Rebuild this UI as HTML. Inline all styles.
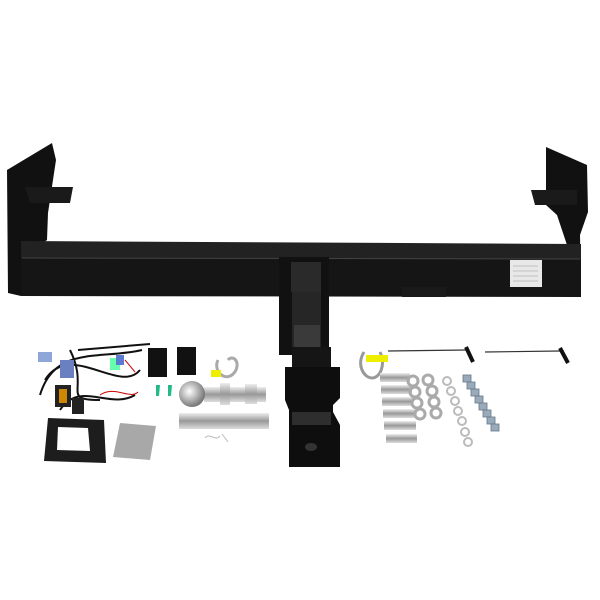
<!DOCTYPE html>
<html><head><meta charset="utf-8"><style>html,body{margin:0;padding:0;background:#fff}svg{display:block}</style></head>
<body>
<svg width="600" height="600" viewBox="0 0 600 600" xmlns="http://www.w3.org/2000/svg">
<defs>
<linearGradient id="chrome" x1="0" y1="0" x2="0" y2="1"><stop offset="0" stop-color="#eee"/><stop offset="0.5" stop-color="#999"/><stop offset="1" stop-color="#ddd"/></linearGradient>
<radialGradient id="ball" cx="0.4" cy="0.4" r="0.6"><stop offset="0" stop-color="#fff"/><stop offset="1" stop-color="#777"/></radialGradient>
</defs>
<!-- left plate -->
<path d="M7,170 L52,143 L56,160 L48,213 L47,240 L21,258 L21,296 L8,293 Z" fill="#111"/>
<polygon points="25,187 73,187 70,203 30,203" fill="#1a1a1a"/>
<!-- right plate -->
<path d="M546,147 L587,165 L588,212 L580,235 L581,296 L567,297 L567,245 L557,215 L546,205 Z" fill="#111"/>
<polygon points="531,190 577,190 577,205 535,205" fill="#1a1a1a"/>
<!-- bar -->
<polygon points="21,241 581,244 581,259 21,258" fill="#222"/>
<polygon points="21,258 581,259 581,297 21,296" fill="#151515"/>
<line x1="22" y1="258" x2="580" y2="259" stroke="#444" stroke-width="1"/>
<rect x="510" y="260" width="32" height="27" fill="#e8e8e8"/>
<g stroke="#999" stroke-width="0.6"><line x1="513" y1="266" x2="538" y2="266"/><line x1="513" y1="271" x2="538" y2="271"/><line x1="513" y1="276" x2="538" y2="276"/><line x1="513" y1="281" x2="538" y2="281"/></g>
<rect x="402" y="287" width="44" height="10" fill="#1a1a1a"/>
<!-- receiver -->
<rect x="279" y="257" width="50" height="98" fill="#111"/>
<rect x="291" y="262" width="30" height="30" fill="#2a2a2a"/>
<rect x="292" y="292" width="29" height="60" fill="#262626"/>
<rect x="294" y="325" width="26" height="22" fill="#3a3a3a"/>
<rect x="292" y="347" width="39" height="23" fill="#151515"/>
<!-- drop plate -->
<path d="M285,367 L340,367 L340,398 L333,405 L333,412 L340,425 L340,467 L289,467 L289,410 L285,400 Z" fill="#0e0e0e"/>
<path d="M292,412 L331,412 L331,425 L292,425 Z" fill="#2e2e2e"/>
<ellipse cx="311" cy="447" rx="6" ry="4" fill="#333"/>
<!-- wiring harness -->
<g fill="none" stroke="#111" stroke-width="2">
<path d="M40,395 C55,345 100,360 142,350"/>
<path d="M45,380 C70,340 120,395 140,370"/>
<path d="M60,410 C80,380 110,410 135,395"/>
<path d="M70,350 C90,390 60,400 100,400"/>
<path d="M78,350 L150,344"/>
</g>
<g fill="none" stroke="#c00" stroke-width="1"><path d="M100,395 C115,385 130,400 138,392"/><path d="M125,360 L135,372"/></g>
<rect x="38" y="352" width="14" height="10" fill="#8fa6d8"/>
<rect x="60" y="360" width="14" height="18" fill="#6a80c0"/>
<rect x="110" y="358" width="10" height="12" fill="#6fa"/>
<rect x="116" y="355" width="8" height="10" fill="#5b7bd0"/>
<rect x="55" y="385" width="16" height="22" fill="#222"/>
<rect x="59" y="389" width="8" height="14" fill="#c80"/>
<rect x="72" y="398" width="12" height="16" fill="#222"/>
<!-- relays -->
<rect x="148" y="348" width="19" height="29" fill="#111"/>
<rect x="177" y="347" width="19" height="28" fill="#111"/>
<polygon points="156,385 160,385 159,396 156,396" fill="#2b8"/>
<polygon points="168,385 172,385 171,396 168,396" fill="#2b8"/>
<!-- shackle yellow -->
<path d="M218,360 C212,372 228,385 236,370 C240,360 232,355 228,360" fill="none" stroke="#aaa" stroke-width="3"/>
<rect x="211" y="370" width="10" height="7" fill="#ee0"/>
<!-- ball + shank -->
<rect x="204" y="387" width="62" height="15" fill="url(#chrome)"/>
<rect x="220" y="383" width="10" height="22" fill="url(#chrome)"/>
<rect x="245" y="384" width="12" height="20" fill="url(#chrome)"/>
<circle cx="192" cy="394" r="13" fill="url(#ball)"/>
<rect x="179" y="413" width="90" height="16" fill="url(#chrome)"/>
<path d="M205,438 c5,-6 10,4 15,-2 M222,434 l6,8" stroke="#bbb" fill="none"/>
<!-- cover box -->
<polygon points="48,418 104,420 106,463 44,461" fill="#1d1d1d"/>
<polygon points="58,427 88,428 90,451 57,450" fill="#fff"/>
<!-- bag -->
<polygon points="120,423 156,426 150,460 113,457" fill="#a8a8a8"/>
<!-- right rods -->
<line x1="388" y1="351" x2="466" y2="350" stroke="#333" stroke-width="1.2"/>
<line x1="466" y1="347" x2="473" y2="362" stroke="#111" stroke-width="4"/>
<line x1="485" y1="352" x2="560" y2="351" stroke="#333" stroke-width="1.2"/>
<line x1="560" y1="348" x2="568" y2="363" stroke="#111" stroke-width="4"/>
<path d="M364,352 C356,365 364,378 372,378 C380,378 386,365 380,352" fill="none" stroke="#999" stroke-width="3"/>
<rect x="366" y="355" width="22" height="7" fill="#ee0"/>
<!-- bolts -->
<g fill="url(#chrome)">
<rect x="380" y="373" width="30" height="9"/><rect x="381" y="385" width="31" height="9"/><rect x="382" y="397" width="31" height="9"/>
<rect x="383" y="409" width="32" height="9"/><rect x="384" y="421" width="32" height="9"/><rect x="386" y="434" width="31" height="9"/>
</g>
<!-- washers -->
<g fill="none" stroke="#aaa" stroke-width="3">
<circle cx="413" cy="381" r="5"/><circle cx="428" cy="380" r="5"/>
<circle cx="415" cy="392" r="5"/><circle cx="432" cy="391" r="5"/>
<circle cx="417" cy="403" r="5"/><circle cx="434" cy="402" r="5"/>
<circle cx="420" cy="414" r="5"/><circle cx="436" cy="413" r="5"/>
</g>
<g fill="none" stroke="#bbb" stroke-width="2">
<circle cx="447" cy="381" r="4"/><circle cx="451" cy="391" r="4"/><circle cx="455" cy="401" r="4"/><circle cx="458" cy="411" r="4"/><circle cx="462" cy="421" r="4"/><circle cx="465" cy="432" r="4"/><circle cx="468" cy="442" r="4"/>
</g>
<g fill="#9ab" stroke="#678" stroke-width="0.8">
<rect x="463" y="375" width="8" height="7"/><rect x="467" y="382" width="8" height="7"/><rect x="471" y="389" width="8" height="7"/><rect x="475" y="396" width="8" height="7"/><rect x="479" y="403" width="8" height="7"/><rect x="483" y="410" width="8" height="7"/><rect x="487" y="417" width="8" height="7"/><rect x="491" y="424" width="8" height="7"/>
</g>
</svg>
</body></html>
